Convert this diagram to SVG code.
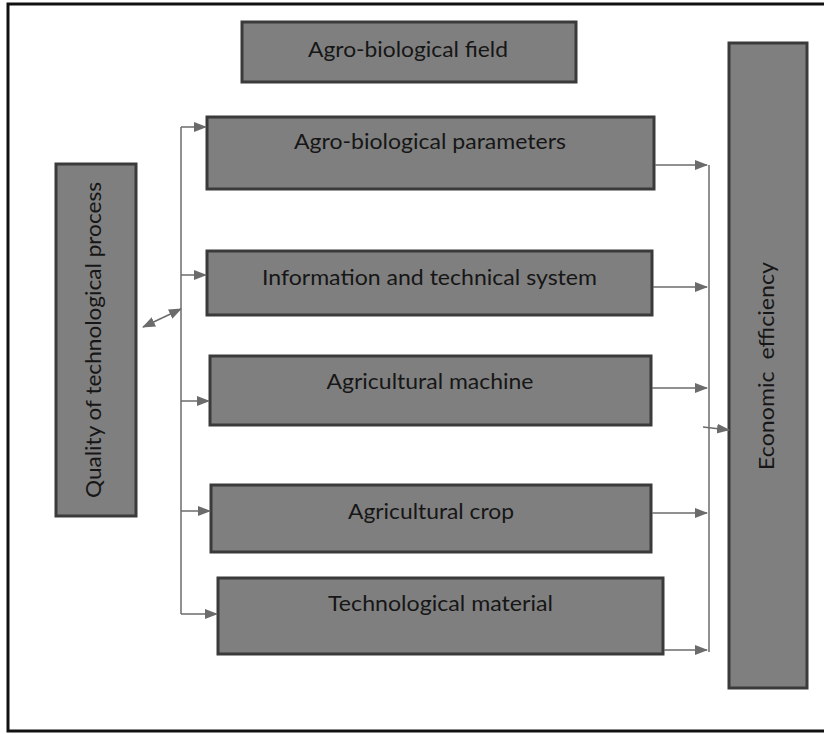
<svg xmlns="http://www.w3.org/2000/svg" width="824" height="734" viewBox="0 0 824 734">
<defs>
<marker id="ah" markerUnits="userSpaceOnUse" markerWidth="14" markerHeight="12" refX="12" refY="5" orient="auto-start-reverse" viewBox="0 0 14 10">
<path d="M0,0 L13,5 L0,10 Z" fill="#6b6b6b"/>
</marker>
</defs>
<style>
.box{fill:#7f7f7f;stroke:#3a3a3a;stroke-width:3}
.lbl{font-family:Lato,"Open Sans","Liberation Sans",sans-serif;font-size:21px;fill:#161616;text-anchor:middle}
.ln{stroke:#6b6b6b;stroke-width:1.5;fill:none}
.ar{stroke:#6b6b6b;stroke-width:1.5;fill:none;marker-end:url(#ah)}
</style>
<rect x="8" y="4" width="840" height="727" fill="#ffffff" stroke="#111111" stroke-width="3"/>
<g id="node-field"><rect class="box" x="242" y="22" width="334" height="60"/><text class="lbl" x="408" y="57" textLength="200" lengthAdjust="spacingAndGlyphs">Agro-biological field</text></g>
<g id="node-params"><rect class="box" x="207" y="117" width="447" height="72"/><text class="lbl" x="430" y="149" textLength="272" lengthAdjust="spacingAndGlyphs">Agro-biological parameters</text></g>
<g id="node-info"><rect class="box" x="207" y="251" width="445" height="64"/><text class="lbl" x="429.5" y="285" textLength="335" lengthAdjust="spacingAndGlyphs">Information and technical system</text></g>
<g id="node-machine"><rect class="box" x="210" y="356" width="441" height="69"/><text class="lbl" x="430" y="389" textLength="207" lengthAdjust="spacingAndGlyphs">Agricultural machine</text></g>
<g id="node-crop"><rect class="box" x="211" y="485" width="440" height="67"/><text class="lbl" x="431" y="519" textLength="166" lengthAdjust="spacingAndGlyphs">Agricultural crop</text></g>
<g id="node-material"><rect class="box" x="218" y="578" width="445" height="76"/><text class="lbl" x="440.5" y="611" textLength="225" lengthAdjust="spacingAndGlyphs">Technological material</text></g>
<g id="node-quality"><rect class="box" x="56" y="164" width="80" height="352"/><text class="lbl" transform="translate(101,340) rotate(-90)" x="0" y="0" textLength="316" lengthAdjust="spacingAndGlyphs">Quality of technological process</text></g>
<g id="node-econ"><rect class="box" x="729" y="43" width="78" height="645"/><text class="lbl" transform="translate(774,366) rotate(-90)" x="0" y="0" textLength="208" lengthAdjust="spacingAndGlyphs" xml:space="preserve">Economic  efficiency</text></g>
<g id="connectors">
<line class="ln" x1="181" y1="127" x2="181" y2="614"/>
<line class="ar" x1="181" y1="127" x2="206" y2="127"/>
<line class="ar" x1="181" y1="275" x2="206" y2="275"/>
<line class="ar" x1="181" y1="401" x2="209" y2="401"/>
<line class="ar" x1="181" y1="511" x2="210" y2="511"/>
<line class="ar" x1="181" y1="614" x2="217" y2="614"/>
<line class="ar" x1="162" y1="318" x2="143" y2="327"/>
<line class="ar" x1="162" y1="318" x2="181" y2="309"/>
<line class="ln" x1="709" y1="165" x2="709" y2="652"/>
<line class="ar" x1="655" y1="165" x2="707" y2="165"/>
<line class="ar" x1="653" y1="287" x2="707" y2="287"/>
<line class="ar" x1="652" y1="388" x2="707" y2="388"/>
<line class="ar" x1="652" y1="513" x2="707" y2="513"/>
<line class="ar" x1="664" y1="650" x2="707" y2="650"/>
<line class="ar" x1="703" y1="427" x2="729" y2="430"/>
</g>
</svg>
